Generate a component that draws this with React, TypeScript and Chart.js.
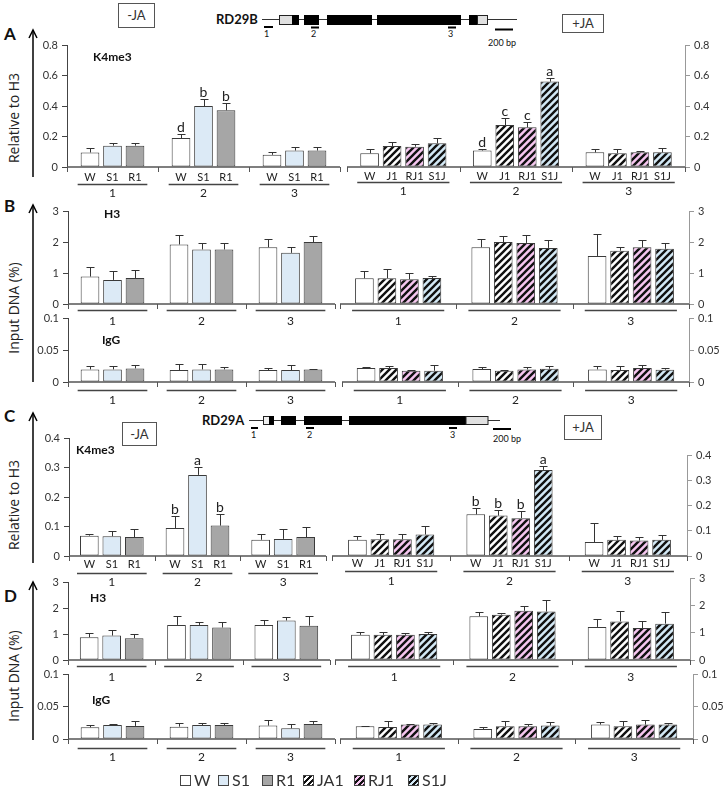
import React, { useEffect, useRef } from 'react';
import { Chart, registerables } from 'chart.js';

Chart.register(...registerables);

// ---------- categories & labels ----------
const GROUPS = ['1', '2', '3'];
const MINUS_SERIES = ['W', 'S1', 'R1'];
const PLUS_SERIES = ['W', 'JA1', 'RJ1', 'S1J'];
const MINUS_BAR_LABELS = ['W', 'S1', 'R1'];
const PLUS_BAR_LABELS = ['W', 'J1', 'RJ1', 'S1J'];
const LEGEND_ITEMS = ['W', 'S1', 'R1', 'JA1', 'RJ1', 'S1J'];

// ---------- Panel A: RD29B K4me3 (relative to H3) ----------  [series][group]
const A_MINUS_VALUES = [[0.095, 0.19, 0.08], [0.14, 0.4, 0.108], [0.14, 0.372, 0.108]];
const A_MINUS_ERRORS = [[0.03, 0.024, 0.017], [0.015, 0.044, 0.02], [0.015, 0.045, 0.024]];
const A_MINUS_LETTERS = [['', 'd', ''], ['', 'b', ''], ['', 'b', '']];
const A_PLUS_VALUES = [[0.09, 0.108, 0.096], [0.138, 0.275, 0.09], [0.133, 0.26, 0.096], [0.155, 0.56, 0.096]];
const A_PLUS_ERRORS = [[0.026, 0.007, 0.02], [0.028, 0.048, 0.026], [0.018, 0.035, 0.011], [0.037, 0.024, 0.026]];
const A_PLUS_LETTERS = [['', 'd', ''], ['', 'c', ''], ['', 'c', ''], ['', 'a', '']];

// ---------- Panel B: RD29B H3 / IgG (input DNA %) ----------
const B_H3_MINUS_VALUES = [[0.885, 1.92, 1.83], [0.777, 1.76, 1.65], [0.84, 1.76, 2.0]];
const B_H3_MINUS_ERRORS = [[0.3, 0.32, 0.26], [0.3, 0.2, 0.18], [0.27, 0.21, 0.2]];
const B_H3_PLUS_VALUES = [[0.83, 1.83, 1.55], [0.83, 2.0, 1.72], [0.8, 1.97, 1.83], [0.84, 1.81, 1.78]];
const B_H3_PLUS_ERRORS = [[0.24, 0.26, 0.7], [0.29, 0.2, 0.12], [0.2, 0.27, 0.24], [0.06, 0.24, 0.19]];
const B_IGG_MINUS_VALUES = [[0.0197, 0.0187, 0.0187], [0.0197, 0.0197, 0.0187], [0.0212, 0.0197, 0.0197]];
const B_IGG_MINUS_ERRORS = [[0.005, 0.01, 0.0036], [0.006, 0.008, 0.0078], [0.0047, 0.0036, 0.001]];
const B_IGG_PLUS_VALUES = [[0.0218, 0.0202, 0.0197], [0.0218, 0.0176, 0.0187], [0.0176, 0.0197, 0.0218], [0.0176, 0.0207, 0.0192]];
const B_IGG_PLUS_ERRORS = [[0.001, 0.0036, 0.0047], [0.0026, 0.0015, 0.0057], [0.0015, 0.004, 0.004], [0.009, 0.004, 0.003]];

// ---------- Panel C: RD29A K4me3 (relative to H3) ----------
const C_MINUS_VALUES = [[0.069, 0.095, 0.055], [0.067, 0.275, 0.058], [0.064, 0.103, 0.064]];
const C_MINUS_ERRORS = [[0.007, 0.041, 0.021], [0.019, 0.027, 0.034], [0.029, 0.038, 0.034]];
const C_MINUS_LETTERS = [['', 'b', ''], ['', 'a', ''], ['', 'b', '']];
const C_PLUS_VALUES = [[0.064, 0.165, 0.055], [0.066, 0.16, 0.064], [0.066, 0.15, 0.061], [0.085, 0.341, 0.064]];
const C_PLUS_ERRORS = [[0.016, 0.026, 0.074], [0.021, 0.022, 0.017], [0.021, 0.029, 0.013], [0.033, 0.016, 0.021]];
const C_PLUS_LETTERS = [['', 'b', ''], ['', 'b', ''], ['', 'b', ''], ['', 'a', '']];

// ---------- Panel D: RD29A H3 / IgG (input DNA %) ----------
const D_H3_MINUS_VALUES = [[0.875, 1.35, 1.35], [0.94, 1.35, 1.52], [0.84, 1.25, 1.32]];
const D_H3_MINUS_ERRORS = [[0.17, 0.34, 0.17], [0.2, 0.13, 0.13], [0.16, 0.2, 0.37]];
const D_H3_PLUS_VALUES = [[0.92, 1.6, 1.21], [0.92, 1.66, 1.41], [0.92, 1.8, 1.17], [0.95, 1.77, 1.33]];
const D_H3_PLUS_ERRORS = [[0.1, 0.17, 0.29], [0.1, 0.06, 0.39], [0.07, 0.17, 0.25], [0.07, 0.43, 0.44]];
const D_IGG_MINUS_VALUES = [[0.018, 0.019, 0.0206], [0.0216, 0.0216, 0.0165], [0.0201, 0.0216, 0.0232]];
const D_IGG_MINUS_ERRORS = [[0.004, 0.0057, 0.0083], [0.0016, 0.003, 0.0067], [0.0077, 0.003, 0.004]];
const D_IGG_PLUS_VALUES = [[0.0196, 0.0155, 0.0222], [0.0186, 0.0196, 0.0196], [0.0222, 0.0196, 0.0222], [0.0222, 0.0206, 0.0222]];
const D_IGG_PLUS_ERRORS = [[0.001, 0.0025, 0.004], [0.009, 0.008, 0.008], [0.001, 0.003, 0.0067], [0.003, 0.0057, 0.0025]];

// ---------- styling ----------
const FONT = 'Lato, "Open Sans", sans-serif';
const FILL_COLORS: Record<string, string> = {
  W: '#ffffff',
  S1: '#dceaf6',
  R1: '#a6a6a6',
  JA1: '#ffffff',
  RJ1: '#f6c6f0',
  S1J: '#d3e9f6',
};
const HATCHED: Record<string, boolean> = { JA1: true, RJ1: true, S1J: true };
const AXIS_W = 38;
const PAD_OUTER = 4;
const PAD_TOP = 16;
const PAD_BOTTOM = 34;
const BAR_PITCH = 22.5;

function makePattern(ctx0: CanvasRenderingContext2D, bg: string) {
  const s = 7;
  const c = document.createElement('canvas');
  c.width = s;
  c.height = s;
  const g = c.getContext('2d')!;
  g.fillStyle = bg;
  g.fillRect(0, 0, s, s);
  g.strokeStyle = '#111';
  g.lineWidth = 2.4;
  g.beginPath();
  g.moveTo(-1, s + 1);
  g.lineTo(s + 1, -1);
  g.moveTo(-s / 2 - 1, s / 2 + 1);
  g.lineTo(s / 2 + 1, -s / 2 - 1);
  g.moveTo(s / 2 - 1, s * 1.5 + 1);
  g.lineTo(s * 1.5 + 1, s / 2 - 1);
  g.stroke();
  return ctx0.createPattern(c, 'repeat')!;
}

const decoPlugin = {
  id: 'deco',
  afterDatasetsDraw(chart: any) {
    const cfg = chart.options.plugins.deco;
    const ctx: CanvasRenderingContext2D = chart.ctx;
    const ys = chart.scales.y;
    const area = chart.chartArea;
    ctx.save();
    // x axis line
    ctx.strokeStyle = '#555';
    ctx.lineWidth = 1.5;
    ctx.beginPath();
    ctx.moveTo(area.left, area.bottom);
    ctx.lineTo(area.right, area.bottom);
    ctx.stroke();
    // group boundary ticks
    ctx.lineWidth = 1;
    const n = chart.data.labels.length;
    for (let k = 0; k <= n; k++) {
      const x = Math.round(area.left + (k * (area.right - area.left)) / n) + 0.5;
      ctx.beginPath();
      ctx.moveTo(x, area.bottom);
      ctx.lineTo(x, area.bottom + 5);
      ctx.stroke();
    }
    // error bars + letters
    chart.data.datasets.forEach((ds: any, i: number) => {
      const meta = chart.getDatasetMeta(i);
      meta.data.forEach((el: any, j: number) => {
        const v = ds.data[j];
        const e = cfg.errors[i][j];
        const x = Math.round(el.x) + 0.5;
        const yTop = Math.round(ys.getPixelForValue(v + e)) + 0.5;
        ctx.strokeStyle = '#333';
        ctx.lineWidth = 1;
        ctx.beginPath();
        ctx.moveTo(x, el.y);
        ctx.lineTo(x, yTop);
        ctx.moveTo(x - 4, yTop);
        ctx.lineTo(x + 4, yTop);
        ctx.stroke();
        const letter = cfg.letters && cfg.letters[i] ? cfg.letters[i][j] : '';
        if (letter) {
          ctx.fillStyle = '#222';
          ctx.font = `14px ${FONT}`;
          ctx.textAlign = 'center';
          ctx.textBaseline = 'alphabetic';
          ctx.fillText(letter, el.x, yTop - 3);
        }
      });
    });
    // bar labels, underlines, group numbers
    ctx.fillStyle = '#222';
    ctx.textAlign = 'center';
    ctx.textBaseline = 'middle';
    for (let j = 0; j < n; j++) {
      let lo = Infinity;
      let hi = -Infinity;
      chart.data.datasets.forEach((_ds: any, i: number) => {
        const el: any = chart.getDatasetMeta(i).data[j];
        lo = Math.min(lo, el.x - el.width / 2);
        hi = Math.max(hi, el.x + el.width / 2);
        if (cfg.barLabels) {
          ctx.font = `11px ${FONT}`;
          ctx.fillText(cfg.barLabels[i], el.x, area.bottom + cfg.labelDy);
        }
      });
      ctx.strokeStyle = '#444';
      ctx.lineWidth = 1.3;
      const uy = Math.round(area.bottom + cfg.underlineDy) + 0.5;
      ctx.beginPath();
      ctx.moveTo(lo - 3, uy);
      ctx.lineTo(hi + 3, uy);
      ctx.stroke();
      ctx.font = `12px ${FONT}`;
      ctx.fillText(chart.data.labels[j], (lo + hi) / 2, area.bottom + cfg.numDy);
    }
    ctx.restore();
  },
};

type HalfProps = {
  side: 'left' | 'right';
  x0: number;
  x1: number;
  yTop: number;
  yZero: number;
  max: number;
  step: number;
  series: string[];
  values: number[][];
  errors: number[][];
  letters?: string[][];
  barLabels?: string[];
  labelDy?: number;
  underlineDy: number;
  numDy: number;
};

function BarHalf(p: HalfProps) {
  const ref = useRef<HTMLCanvasElement>(null);
  const isLeft = p.side === 'left';
  const plotW = p.x1 - p.x0;
  const plotH = p.yZero - p.yTop;
  const width = Math.round(plotW + AXIS_W + PAD_OUTER);
  const height = Math.round(PAD_TOP + plotH + PAD_BOTTOM);
  const left = isLeft ? p.x0 - AXIS_W : p.x0 - PAD_OUTER;
  const top = p.yTop - PAD_TOP;
  const groupW = plotW / GROUPS.length;
  const catPct = Math.min(0.95, (p.series.length * BAR_PITCH) / groupW);

  useEffect(() => {
    const canvas = ref.current!;
    const ctx = canvas.getContext('2d')!;
    const datasets = p.series.map((key, i) => ({
      label: key,
      data: p.values[i],
      backgroundColor: HATCHED[key] ? makePattern(ctx, FILL_COLORS[key]) : FILL_COLORS[key],
      borderColor: '#3a3a3a',
      borderWidth: 1,
      borderSkipped: false,
      categoryPercentage: catPct,
      barPercentage: 0.83,
    }));
    const axisColor = isLeft ? '#444' : '#999';
    const chart = new Chart(canvas, {
      type: 'bar',
      data: { labels: GROUPS, datasets: datasets as any },
      plugins: [decoPlugin as any],
      options: {
        responsive: false,
        animation: false,
        devicePixelRatio: 1,
        layout: {
          padding: {
            left: isLeft ? 0 : PAD_OUTER,
            right: isLeft ? PAD_OUTER : 0,
            top: PAD_TOP,
            bottom: PAD_BOTTOM,
          },
        },
        plugins: {
          legend: { display: false },
          tooltip: { enabled: false },
          deco: {
            errors: p.errors,
            letters: p.letters,
            barLabels: p.barLabels,
            labelDy: p.labelDy ?? 9,
            underlineDy: p.underlineDy,
            numDy: p.numDy,
          },
        } as any,
        scales: {
          x: { type: 'category', display: false, offset: true },
          y: {
            position: p.side,
            min: 0,
            max: p.max,
            ticks: {
              stepSize: p.step,
              color: '#333',
              padding: 4,
              font: { family: FONT, size: 11 },
              callback: (v: any) => String(Math.round(Number(v) * 1000) / 1000),
            },
            grid: {
              display: true,
              drawOnChartArea: false,
              drawTicks: true,
              tickLength: 5,
              color: axisColor,
            },
            border: { display: true, color: axisColor, width: 1 },
            afterFit: (s: any) => {
              s.width = AXIS_W;
            },
          } as any,
        },
      },
    });
    return () => chart.destroy();
  }, []);

  return (
    <canvas
      ref={ref}
      width={width}
      height={height}
      style={{ position: 'absolute', left, top, width, height }}
    />
  );
}

const txt = (extra: React.CSSProperties): React.CSSProperties => ({
  position: 'absolute',
  fontFamily: FONT,
  color: '#111',
  whiteSpace: 'nowrap',
  lineHeight: 1,
  ...extra,
});

function Arrow({ x, y1, y2 }: { x: number; y1: number; y2: number }) {
  return (
    <g stroke="#000" strokeWidth={1.5} fill="none">
      <line x1={x} y1={y1} x2={x} y2={y2} />
      <polyline points={`${x - 4},${y1 + 8} ${x},${y1} ${x + 4},${y1 + 8}`} />
    </g>
  );
}

function VTitle({ text, cx, cy }: { text: string; cx: number; cy: number }) {
  return (
    <div
      style={txt({
        left: cx,
        top: cy,
        fontFamily: '"Open Sans", sans-serif',
        fontSize: 14,
        color: '#222',
        transform: 'translate(-50%, -50%) rotate(-90deg)',
      })}
    >
      {text}
    </div>
  );
}

function JABox({ text, l, t, w, h }: { text: string; l: number; t: number; w: number; h: number }) {
  return (
    <div
      style={txt({
        left: l,
        top: t,
        width: w,
        height: h,
        border: '1px solid #555',
        background: '#fff',
        display: 'flex',
        alignItems: 'center',
        justifyContent: 'center',
        fontSize: 13,
        color: '#333',
        boxSizing: 'border-box',
      })}
    >
      {text}
    </div>
  );
}

function legendBg(key: string) {
  const bg = FILL_COLORS[key];
  if (HATCHED[key]) {
    return `repeating-linear-gradient(135deg, #111 0px, #111 2px, ${bg} 2px, ${bg} 4px)`;
  }
  return bg;
}

const LEGEND_X = [180, 218, 262, 303, 354, 408];

export default function App() {
  return (
    <div
      style={{
        position: 'absolute',
        left: 0,
        top: 0,
        width: 727,
        height: 788,
        overflow: 'hidden',
        background: '#fff',
        fontFamily: FONT,
      }}
    >
      {/* decorations: arrows & gene diagrams */}
      <svg width={727} height={788} style={{ position: 'absolute', left: 0, top: 0 }}>
        <Arrow x={33} y1={30} y2={177} />
        <Arrow x={33} y1={205} y2={382} />
        <Arrow x={33} y1={413} y2={563} />
        <Arrow x={33} y1={582} y2={740} />
        {/* RD29B */}
        <g>
          <line x1={262} y1={19.5} x2={517} y2={19.5} stroke="#333" strokeWidth={1} />
          <rect x={279.5} y={15.5} width={13} height={9} fill="#e0e0e0" stroke="#222" />
          <rect x={292} y={15} width={7} height={10} fill="#000" />
          <rect x={304} y={15} width={15} height={10} fill="#000" />
          <rect x={327} y={15} width={45} height={10} fill="#000" />
          <rect x={377} y={15} width={84} height={10} fill="#000" />
          <rect x={469} y={15} width={8} height={10} fill="#000" />
          <rect x={477.5} y={15.5} width={10} height={9} fill="#e0e0e0" stroke="#222" />
          <rect x={264} y={26} width={9} height={2} fill="#000" />
          <rect x={311} y={26.5} width={8} height={2} fill="#000" />
          <rect x={448} y={26.5} width={8} height={2} fill="#000" />
          <rect x={495} y={28.5} width={18} height={2} fill="#000" />
        </g>
        {/* RD29A */}
        <g>
          <line x1={249} y1={420.5} x2={500} y2={420.5} stroke="#333" strokeWidth={1} />
          <rect x={263.5} y={416.5} width={6} height={8} fill="#f0f0f0" stroke="#222" />
          <rect x={269} y={416} width={5} height={9} fill="#000" />
          <rect x={281} y={416} width={15} height={9} fill="#000" />
          <rect x={304} y={416} width={38} height={9} fill="#000" />
          <rect x={349} y={416} width={117} height={9} fill="#000" />
          <rect x={466} y={416.5} width={22} height={8} fill="#e0e0e0" stroke="#222" />
          <rect x={251} y={427} width={7} height={2} fill="#000" />
          <rect x={306} y={427} width={8} height={2} fill="#000" />
          <rect x={449} y={427} width={8} height={2} fill="#000" />
          <rect x={493} y={428} width={18} height={2} fill="#000" />
        </g>
      </svg>

      {/* gene diagram texts */}
      <div style={txt({ left: 216, top: 13, fontSize: 13, fontWeight: 700 })}>RD29B</div>
      <div style={txt({ left: 264, top: 29, fontSize: 9 })}>1</div>
      <div style={txt({ left: 311, top: 29, fontSize: 9 })}>2</div>
      <div style={txt({ left: 448, top: 29, fontSize: 9 })}>3</div>
      <div style={txt({ left: 488, top: 38, fontSize: 9 })}>200 bp</div>
      <div style={txt({ left: 202, top: 414, fontSize: 13, fontWeight: 700 })}>RD29A</div>
      <div style={txt({ left: 251, top: 430, fontSize: 9 })}>1</div>
      <div style={txt({ left: 307, top: 430, fontSize: 9 })}>2</div>
      <div style={txt({ left: 450, top: 430, fontSize: 9 })}>3</div>
      <div style={txt({ left: 493, top: 434, fontSize: 9 })}>200 bp</div>

      <JABox text="-JA" l={118} t={3} w={37} h={25} />
      <JABox text="+JA" l={562} t={14} w={42} h={19} />
      <JABox text="-JA" l={122} t={422} w={35} h={24} />
      <JABox text="+JA" l={564} t={415} w={38} h={25} />

      {/* panel letters */}
      <div style={txt({ left: 4, top: 25, fontSize: 17, fontWeight: 700 })}>A</div>
      <div style={txt({ left: 4, top: 197, fontSize: 17, fontWeight: 700 })}>B</div>
      <div style={txt({ left: 4, top: 407, fontSize: 17, fontWeight: 700 })}>C</div>
      <div style={txt({ left: 4, top: 587, fontSize: 17, fontWeight: 700 })}>D</div>

      {/* y titles */}
      <VTitle text="Relative to H3" cx={14} cy={118} />
      <VTitle text="Input DNA (%)" cx={14} cy={308} />
      <VTitle text="Relative to H3" cx={14} cy={505} />
      <VTitle text="Input DNA (%)" cx={14} cy={676} />

      {/* charts */}
      <BarHalf side="left" x0={67} x1={340} yTop={45} yZero={167} max={0.8} step={0.2}
        series={MINUS_SERIES} values={A_MINUS_VALUES} errors={A_MINUS_ERRORS} letters={A_MINUS_LETTERS}
        barLabels={MINUS_BAR_LABELS} labelDy={10} underlineDy={17} numDy={26} />
      <BarHalf side="right" x0={347} x1={685} yTop={45} yZero={167} max={0.8} step={0.2}
        series={PLUS_SERIES} values={A_PLUS_VALUES} errors={A_PLUS_ERRORS} letters={A_PLUS_LETTERS}
        barLabels={PLUS_BAR_LABELS} labelDy={9} underlineDy={15} numDy={24} />

      <BarHalf side="left" x0={68} x1={335} yTop={210.7} yZero={303.3} max={3} step={1}
        series={MINUS_SERIES} values={B_H3_MINUS_VALUES} errors={B_H3_MINUS_ERRORS} underlineDy={6} numDy={17} />
      <BarHalf side="right" x0={340} x1={689} yTop={210.7} yZero={303.3} max={3} step={1}
        series={PLUS_SERIES} values={B_H3_PLUS_VALUES} errors={B_H3_PLUS_ERRORS} underlineDy={6} numDy={17} />
      <BarHalf side="left" x0={68} x1={335} yTop={318.3} yZero={382.7} max={0.1} step={0.05}
        series={MINUS_SERIES} values={B_IGG_MINUS_VALUES} errors={B_IGG_MINUS_ERRORS} underlineDy={7.5} numDy={18} />
      <BarHalf side="right" x0={342} x1={689} yTop={318.3} yZero={382.7} max={0.1} step={0.05}
        series={PLUS_SERIES} values={B_IGG_PLUS_VALUES} errors={B_IGG_PLUS_ERRORS} underlineDy={7.5} numDy={18} />

      <BarHalf side="left" x0={69} x1={326} yTop={437.7} yZero={555.7} max={0.4} step={0.1}
        series={MINUS_SERIES} values={C_MINUS_VALUES} errors={C_MINUS_ERRORS} letters={C_MINUS_LETTERS}
        barLabels={MINUS_BAR_LABELS} labelDy={8.5} underlineDy={16.5} numDy={26} />
      <BarHalf side="right" x0={332} x1={687} yTop={455} yZero={555.7} max={0.4} step={0.1}
        series={PLUS_SERIES} values={C_PLUS_VALUES} errors={C_PLUS_ERRORS} letters={C_PLUS_LETTERS}
        barLabels={PLUS_BAR_LABELS} labelDy={7} underlineDy={15} numDy={25} />

      <BarHalf side="left" x0={68} x1={330} yTop={581.7} yZero={659.3} max={3} step={1}
        series={MINUS_SERIES} values={D_H3_MINUS_VALUES} errors={D_H3_MINUS_ERRORS} underlineDy={6} numDy={17} />
      <BarHalf side="right" x0={335} x1={690} yTop={577.7} yZero={659.3} max={3} step={1}
        series={PLUS_SERIES} values={D_H3_PLUS_VALUES} errors={D_H3_PLUS_ERRORS} underlineDy={6} numDy={17} />
      <BarHalf side="left" x0={68} x1={335} yTop={674} yZero={738.7} max={0.1} step={0.05}
        series={MINUS_SERIES} values={D_IGG_MINUS_VALUES} errors={D_IGG_MINUS_ERRORS} underlineDy={8.6} numDy={18.5} />
      <BarHalf side="right" x0={340} x1={693} yTop={674} yZero={738.7} max={0.1} step={0.05}
        series={PLUS_SERIES} values={D_IGG_PLUS_VALUES} errors={D_IGG_PLUS_ERRORS} underlineDy={8.6} numDy={18.5} />

      {/* inner panel titles */}
      <div style={txt({ left: 93, top: 51, fontSize: 12, fontWeight: 700 })}>K4me3</div>
      <div style={txt({ left: 104, top: 208, fontSize: 12, fontWeight: 700 })}>H3</div>
      <div style={txt({ left: 102, top: 334, fontSize: 12, fontWeight: 700 })}>IgG</div>
      <div style={txt({ left: 76, top: 444, fontSize: 12, fontWeight: 700 })}>K4me3</div>
      <div style={txt({ left: 90, top: 592, fontSize: 12, fontWeight: 700 })}>H3</div>
      <div style={txt({ left: 92, top: 694, fontSize: 12, fontWeight: 700 })}>IgG</div>

      {/* legend */}
      {LEGEND_ITEMS.map((key, i) => (
        <div key={key} style={txt({ left: LEGEND_X[i], top: 772, display: 'flex', alignItems: 'center', fontSize: 16, color: '#333' })}>
          <span
            style={{
              display: 'inline-block',
              width: 9,
              height: 9,
              border: '1px solid #444',
              background: legendBg(key),
              marginRight: 3,
            }}
          />
          {key}
        </div>
      ))}
    </div>
  );
}
